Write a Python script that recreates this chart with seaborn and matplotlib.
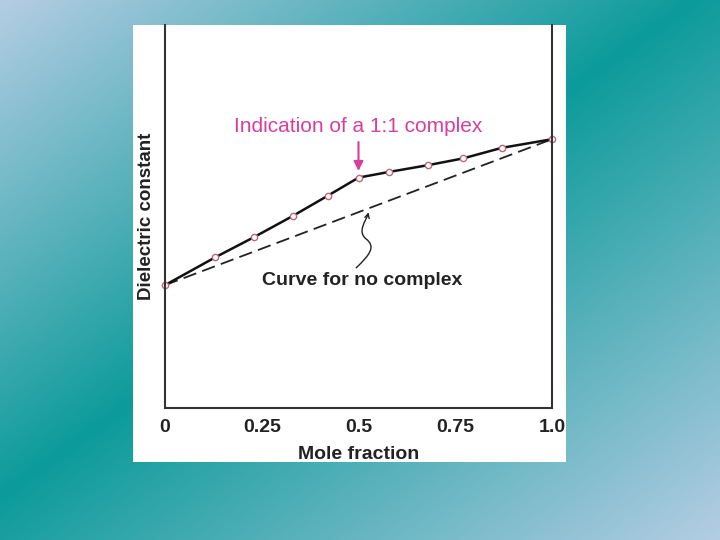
import numpy as np
import pandas as pd
import matplotlib
matplotlib.use("Agg")
import matplotlib.pyplot as plt
import seaborn as sns
from matplotlib.patches import Rectangle, FancyArrowPatch
from matplotlib.path import Path

# ---- data ----
mole_fraction = [0.0, 0.13, 0.23, 0.33, 0.42, 0.50, 0.58, 0.68, 0.77, 0.87, 1.0]
dielectric = [1.28, 1.57, 1.78, 2.00, 2.21, 2.40, 2.46, 2.53, 2.60, 2.71, 2.80]
ideal_x = [0.0, 1.0]
ideal_y = [1.28, 2.80]
xtick_values = [0, 0.25, 0.5, 0.75, 1.0]
xtick_labels = ["0", "0.25", "0.5", "0.75", "1.0"]
ytick_values = [1, 2, 3]

sns.set_style("white")
plt.rcParams["font.family"] = ["Liberation Sans", "DejaVu Sans"]

fig = plt.figure(figsize=(7.2, 5.4), dpi=100)

# ---- gradient slide background ----
bg = fig.add_axes([0, 0, 1, 1], zorder=-10)
H, W = 540, 720
yy, xx = np.mgrid[0:H, 0:W]
t = (500 * xx + 700 * yy) / (500 * 720 + 700 * 540)
light = np.array([181, 205, 228]) / 255.0
teal = np.array([12, 155, 154]) / 255.0
tc = 0.47
w = np.where(t < tc, t / tc, (1 - t) / (1 - tc))
w = np.clip(w, 0, 1)[..., None]
img = light * (1 - w) + teal * w
bg.imshow(img, aspect="auto", extent=[0, 1, 0, 1], origin="upper")
bg.axis("off")

# white panel
panel = Rectangle((133 / 720, 1 - 462 / 540), (566 - 133) / 720, (462 - 25) / 540,
                  transform=fig.transFigure, facecolor="white", edgecolor="none", zorder=-5)
fig.patches.append(panel)

ax = fig.add_axes([165 / 720, 1 - 408 / 540, 387 / 720, 383 / 540])
ax.set_facecolor("none")

df = pd.DataFrame({"x": mole_fraction, "y": dielectric})
dfi = pd.DataFrame({"x": ideal_x, "y": ideal_y})

sns.lineplot(data=dfi, x="x", y="y", ax=ax, color="#222222", lw=1.3,
             linestyle=(0, (7.5, 3.5)))
sns.lineplot(data=df, x="x", y="y", ax=ax, color="#111111", lw=1.8,
             marker="o", markersize=4.5, markerfacecolor="white",
             markeredgecolor="#b8687a", markeredgewidth=1.0, clip_on=False)

ax.set_xlim(0, 1.0)
ax.set_ylim(0, 3.99)
ax.set_xticks(xtick_values)
ax.set_xticklabels(xtick_labels)
ax.set_yticks(ytick_values)
ax.set_yticklabels([])
ax.tick_params(axis="x", direction="in", length=8, width=1.0, colors="#333333",
               labelcolor="#222222", labelsize=14, pad=8)
ax.tick_params(axis="y", direction="in", length=6, width=1.0, colors="#555555")
for lab in ax.get_xticklabels():
    lab.set_fontweight("bold")
    lab.set_clip_path(panel)
    lab.set_clip_on(True)

for s in ["left", "right", "bottom"]:
    ax.spines[s].set_visible(True)
    ax.spines[s].set_color("#333333")
    ax.spines[s].set_linewidth(1.5)
ax.spines["top"].set_visible(False)

ax.set_xlabel("Mole fraction", fontsize=14, fontweight="bold", color="#222222", labelpad=7)
ax.set_ylabel("Dielectric constant", fontsize=13.5, fontweight="bold", color="#222222", labelpad=4)
ax.xaxis.label.set_clip_path(panel)

# annotations
magenta = "#d63f9e"
ax.text(0.5, 2.93, "Indication of a 1:1 complex", color=magenta, fontsize=15,
        ha="center", va="center")
ax.annotate("", xy=(0.5, 2.44), xytext=(0.5, 2.80),
            arrowprops=dict(arrowstyle="-|>", color=magenta, lw=1.5,
                            mutation_scale=14))

ax.text(0.51, 1.33, "Curve for no complex", color="#222222", fontsize=14,
        fontweight="bold", ha="center", va="center")
verts = [(0.494, 1.46), (0.53, 1.60), (0.545, 1.68), (0.52, 1.76),
         (0.495, 1.84), (0.52, 1.95), (0.526, 2.04)]
codes = [Path.MOVETO, Path.CURVE4, Path.CURVE4, Path.CURVE4,
         Path.CURVE4, Path.CURVE4, Path.CURVE4]
sq = FancyArrowPatch(path=Path(verts, codes), arrowstyle="->", mutation_scale=8,
                     color="#222222", lw=1.0, transform=ax.transData)
ax.add_patch(sq)

fig.savefig("out.png", dpi=100)
